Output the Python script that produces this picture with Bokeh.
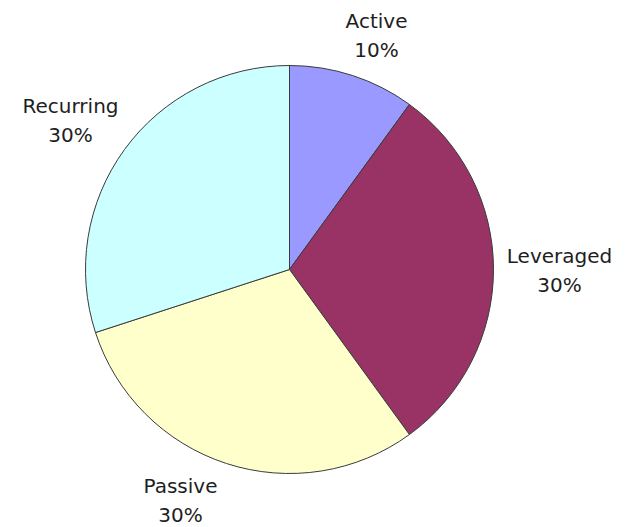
import math
from bokeh.plotting import figure
from bokeh.models import ColumnDataSource, Range1d
from bokeh.core.properties import value
from bokeh.embed import file_html
from bokeh.resources import INLINE

# data
categories = ["Active", "Leveraged", "Passive", "Recurring"]
shares = [10, 30, 30, 30]
colors = ["#9999FF", "#993366", "#FFFFCC", "#CCFFFF"]

# layout (pixel space of the page)
W, H = 626, 527
cx, cy = 289, 269
radius_px = 204
label_xy = [(376, 35), (559, 270), (180, 500), (70, 120)]
line_gap = 29

total = float(sum(shares))
starts, ends = [], []
acc = 0.0
for s in shares:
    a0 = math.pi / 2 - 2 * math.pi * acc / total
    acc += s
    a1 = math.pi / 2 - 2 * math.pi * acc / total
    starts.append(a0)
    ends.append(a1)

src = ColumnDataSource(dict(cat=categories, share=shares, color=colors,
                            start=starts, end=ends,
                            x=[cx] * len(shares), y=[H - cy] * len(shares)))

p = figure(width=W, height=H, x_range=Range1d(0, W), y_range=Range1d(0, H),
           output_backend="svg", toolbar_location=None, min_border=0)
p.axis.visible = False
p.grid.visible = False
p.outline_line_color = None
p.background_fill_color = "white"
p.border_fill_color = "white"

p.wedge(x="x", y="y", radius=radius_px, radius_units="screen",
        start_angle="start", end_angle="end", direction="clock",
        fill_color="color", line_color="#3a3a3a", line_width=1, source=src)

lab = ColumnDataSource(dict(
    x=[xy[0] for xy in label_xy],
    y=[H - xy[1] for xy in label_xy],
    name=categories,
    pct=[f"{s}%" for s in shares]))
common = dict(source=lab, text_align="center", text_baseline="middle",
              text_font=value("DejaVu Sans"), text_font_size="20px",
              text_color="#1e1e1e")
p.text(x="x", y="y", text="name", y_offset=-line_gap / 2, **common)
p.text(x="x", y="y", text="pct", y_offset=line_gap / 2, **common)

open("out.html", "w").write(file_html(p, INLINE))
